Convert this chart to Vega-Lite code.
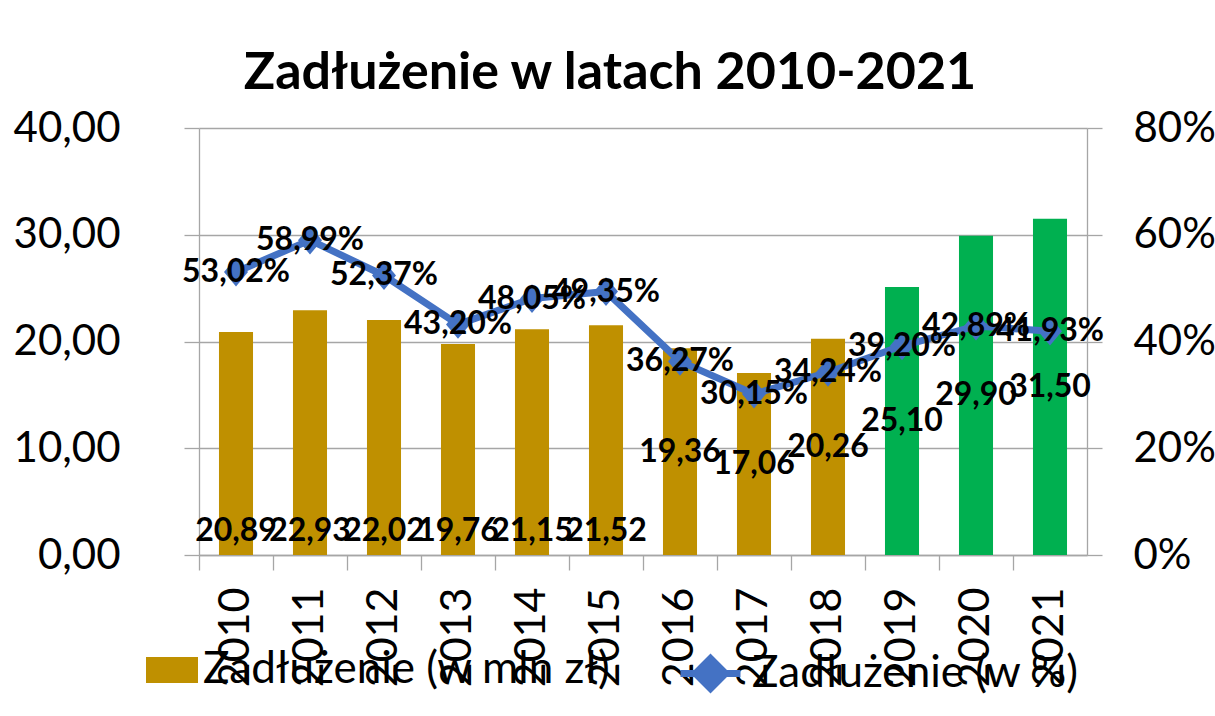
{
  "$schema": "https://vega.github.io/schema/vega-lite/v6.json",
  "width": 888,
  "height": 427,
  "autosize": "none",
  "padding": {"left": 199, "top": 128, "right": 128, "bottom": 161},
  "background": "white",
  "config": {
    "locale": {"number": {"decimal": ",", "thousands": " ", "grouping": [3], "currency": ["", " zł"]}},
    "font": "Lato",
    "view": {"stroke": null},
    "axis": {"labelFont": "Lato", "labelColor": "#000000", "domainColor": "#A6A6A6", "tickColor": "#A6A6A6", "gridColor": "#A6A6A6", "domainWidth": 1.3, "tickWidth": 1.3, "gridWidth": 1.3, "labelFontSize": 42, "tickSize": 15},
    "legend": {"labelFont": "Lato", "labelColor": "#000000", "labelFontSize": 44, "labelLimit": 0, "padding": 0}
  },
  "title": {"text": "Zadłużenie w latach 2010-2021", "font": "Lato", "fontSize": 52, "fontWeight": "bold", "color": "#000000", "anchor": "middle", "offset": 38, "dx": -33, "dy": 72, "baseline": "alphabetic"},
  "data": {"values": [
    {"rok": "2010", "kwota": 20.89, "proc": 0.5302, "typ": "wykonanie"},
    {"rok": "2011", "kwota": 22.93, "proc": 0.5899, "typ": "wykonanie"},
    {"rok": "2012", "kwota": 22.02, "proc": 0.5237, "typ": "wykonanie"},
    {"rok": "2013", "kwota": 19.76, "proc": 0.4320, "typ": "wykonanie"},
    {"rok": "2014", "kwota": 21.15, "proc": 0.4805, "typ": "wykonanie"},
    {"rok": "2015", "kwota": 21.52, "proc": 0.4935, "typ": "wykonanie"},
    {"rok": "2016", "kwota": 19.36, "proc": 0.3627, "typ": "wykonanie"},
    {"rok": "2017", "kwota": 17.06, "proc": 0.3015, "typ": "wykonanie"},
    {"rok": "2018", "kwota": 20.26, "proc": 0.3424, "typ": "wykonanie"},
    {"rok": "2019", "kwota": 25.10, "proc": 0.3920, "typ": "prognoza"},
    {"rok": "2020", "kwota": 29.90, "proc": 0.4289, "typ": "prognoza"},
    {"rok": "2021", "kwota": 31.50, "proc": 0.4193, "typ": "prognoza"}
  ]},
  "encoding": {
    "x": {"field": "rok", "type": "ordinal", "scale": {"paddingInner": 0, "paddingOuter": 0},
      "axis": {"title": null, "labelAngle": 270, "labelPadding": 17, "bandPosition": 0, "grid": false, "labelFontSize": 43}}
  },
  "layer": [
    {
      "mark": {"type": "bar", "width": {"band": 0.46}},
      "encoding": {
        "y": {"field": "kwota", "type": "quantitative", "scale": {"domain": [0, 40]},
          "axis": {"title": null, "orient": "left", "values": [0, 10, 20, 30, 40], "format": ".2f", "grid": true, "labelPadding": 64}},
        "fill": {"field": "typ", "type": "nominal", "scale": {"domain": ["wykonanie", "prognoza"], "range": ["#BF9000", "#00B050"]},
          "legend": {"values": ["wykonanie"], "labelExpr": "'Zadłużenie (w mln zł)'", "orient": "none", "legendX": -53, "legendY": 516, "symbolType": "M-1,-0.5H1V0.5H-1Z", "symbolSize": 2704, "symbolStrokeWidth": 0, "labelOffset": 5, "title": null}}
      }
    },
    {
      "mark": {"type": "line", "strokeWidth": 7, "strokeCap": "round", "strokeJoin": "round"},
      "encoding": {
        "y": {"field": "proc", "type": "quantitative", "scale": {"domain": [0, 0.8]},
          "axis": {"title": null, "orient": "right", "values": [0, 0.2, 0.4, 0.6, 0.8], "format": ".0%", "grid": false, "labelPadding": 31}},
        "stroke": {"datum": "Zadłużenie (w %)", "type": "nominal", "scale": {"range": ["#4472C4"]},
          "legend": {"orient": "none", "legendX": 478, "legendY": 512, "symbolType": "M-1,0H1M0,-0.5L0.5,0L0,0.5L-0.5,0Z", "symbolSize": 3600, "symbolStrokeWidth": 7, "symbolFillColor": "#4472C4", "labelOffset": 8, "title": null,
            "encode": {"symbols": {"update": {"fill": {"value": "#4472C4"}, "stroke": {"value": "#4472C4"}}}}}}
      }
    },
    {
      "mark": {"type": "point", "filled": true, "shape": "M0,-1.2L1,0L0,1.2L-1,0Z", "size": 576, "color": "#4472C4", "opacity": 1},
      "encoding": {
        "y": {"field": "proc", "type": "quantitative", "scale": {"domain": [0, 0.8]}, "axis": null}
      }
    },
    {
      "mark": {"type": "text", "fontWeight": "bold", "fontSize": 32, "color": "#000000", "baseline": "middle", "align": "center", "font": "Lato"},
      "encoding": {
        "y": {"field": "proc", "type": "quantitative", "scale": {"domain": [0, 0.8]}, "axis": null},
        "text": {"field": "proc", "type": "quantitative", "format": ".2%"}
      }
    },
    {
      "transform": [{"filter": "toNumber(datum.rok) >= 2016"}],
      "mark": {"type": "text", "fontWeight": "bold", "fontSize": 32, "color": "#000000", "baseline": "middle", "align": "center", "font": "Lato"},
      "encoding": {
        "y": {"field": "kwota", "type": "quantitative", "scale": {"domain": [0, 80]}, "axis": null},
        "text": {"field": "kwota", "type": "quantitative", "format": ".2f"}
      }
    },
    {
      "transform": [{"filter": "toNumber(datum.rok) <= 2015"}],
      "mark": {"type": "text", "fontWeight": "bold", "fontSize": 32, "color": "#000000", "baseline": "middle", "align": "center", "font": "Lato", "dy": -24},
      "encoding": {
        "y": {"datum": 0, "type": "quantitative", "scale": {"domain": [0, 40]}, "axis": null},
        "text": {"field": "kwota", "type": "quantitative", "format": ".2f"}
      }
    }
  ],
  "resolve": {"scale": {"y": "independent"}}
}
